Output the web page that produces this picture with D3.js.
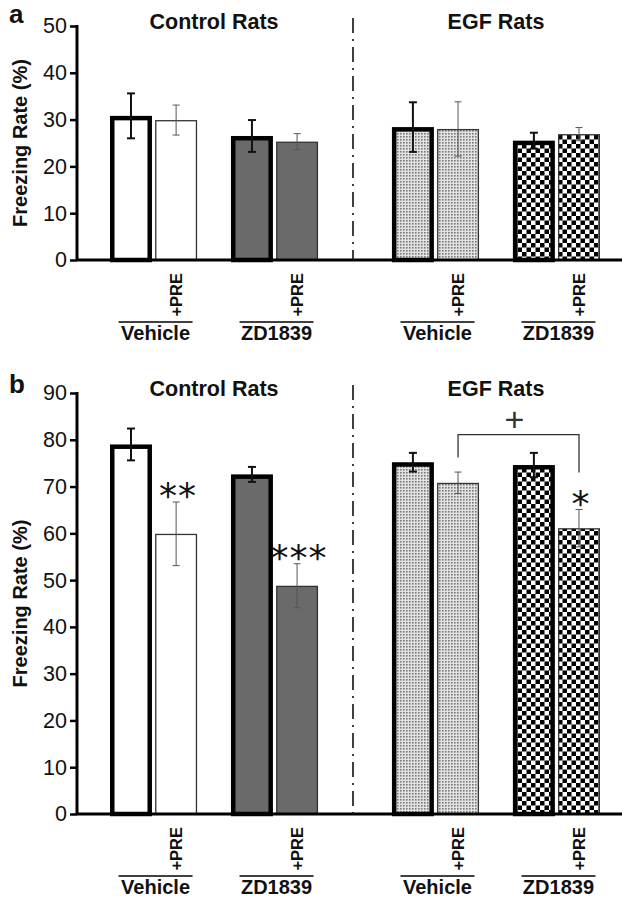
<!DOCTYPE html>
<html>
<head>
<meta charset="utf-8">
<script src="https://cdn.jsdelivr.net/npm/d3@7"></script>
<style>
html,body{margin:0;padding:0;background:#fff;}
svg{display:block;}
text{font-family:"Liberation Sans",Arial,sans-serif;fill:#111;}
</style>
</head>
<body>
<svg id="chart" width="622" height="897"></svg>
<script>
// ---------- data ----------
const groups = ["Control Rats", "EGF Rats"];
const treatments = ["Vehicle", "ZD1839"];
const conditions = ["", "+PRE"];
const panelLetters = ["a", "b"];
const yTicksA = [0, 10, 20, 30, 40, 50];
const yTicksB = [0, 10, 20, 30, 40, 50, 60, 70, 80, 90];
// order: Control Vehicle, Control Vehicle+PRE, Control ZD, Control ZD+PRE, EGF Vehicle, EGF Vehicle+PRE, EGF ZD, EGF ZD+PRE
const meansA = [30.8, 29.9, 26.5, 25.3, 28.4, 28.0, 25.5, 26.9];
const errsA  = [4.8, 3.2, 3.4, 1.7, 5.3, 5.8, 1.7, 1.4];
const meansB = [79.0, 59.9, 72.6, 48.8, 75.2, 70.8, 74.6, 61.1];
const errsB  = [3.4, 6.8, 1.6, 4.7, 2.0, 2.3, 2.6, 4.0];
const sigB   = ["", "**", "", "***", "", "", "", "*"];
// bracket between EGF Vehicle+PRE and EGF ZD1839+PRE (values in %)
const bracketB = [{from: 5, to: 7, top: 81.1, leftEnd: 76.2, rightEnd: 73.0, label: "+"}];

// ---------- layout ----------
const svg = d3.select("#chart");
const axisX = 77;

const x0 = d3.scaleBand().domain(groups).range([110, 600]).paddingInner(0.262).paddingOuter(0);
const x1 = d3.scaleBand().domain(treatments).range([0, x0.bandwidth()]).paddingInner(0.28).paddingOuter(0);
const x2 = d3.scaleBand().domain(conditions).range([0, x1.bandwidth()]).paddingInner(0.07).paddingOuter(0);

function buildRows(means, errs, sig) {
  const rows = [];
  let i = 0;
  groups.forEach(g => treatments.forEach(t => conditions.forEach(c => {
    rows.push({g, t, c, v: means[i], e: errs[i], sig: sig ? sig[i] : ""});
    i++;
  })));
  return rows;
}

// patterns
const defs = svg.append("defs");
const stip = defs.append("pattern").attr("id", "stip").attr("patternUnits", "userSpaceOnUse")
  .attr("width", 3).attr("height", 3);
stip.append("rect").attr("width", 3).attr("height", 3).attr("fill", "#e2e2e2");
stip.append("rect").attr("x", 1).attr("y", 1).attr("width", 1.6).attr("height", 1.6).attr("fill", "#7a7a7a");
const chk = defs.append("pattern").attr("id", "chk").attr("patternUnits", "userSpaceOnUse")
  .attr("width", 9).attr("height", 9);
chk.append("rect").attr("width", 9).attr("height", 9).attr("fill", "#fff");
chk.append("rect").attr("width", 4.5).attr("height", 4.5).attr("fill", "#000");
chk.append("rect").attr("x", 4.5).attr("y", 4.5).attr("width", 4.5).attr("height", 4.5).attr("fill", "#000");

function fillFor(d) {
  if (d.g === groups[0]) return d.t === treatments[0] ? "#ffffff" : "#6a6a6a";
  return d.t === treatments[0] ? "url(#stip)" : "url(#chk)";
}

const panels = [
  {letter: panelLetters[0], rows: buildRows(meansA, errsA, null), ticks: yTicksA, yr: [260, 26], brackets: []},
  {letter: panelLetters[1], rows: buildRows(meansB, errsB, sigB), ticks: yTicksB, yr: [814, 393], brackets: bracketB}
];

panels.forEach(p => {
  const g = svg.append("g");
  const maxV = p.ticks[p.ticks.length - 1];
  const y = d3.scaleLinear().domain([0, maxV]).range(p.yr);
  const base = y(0);
  const cx = d => x0(d.g) + x1(d.t) + x2(d.c) + x2.bandwidth() / 2;

  // bars
  p.rows.forEach(d => {
    const thick = d.c === conditions[0];
    const sw = thick ? 4.5 : 1.3;
    const left = x0(d.g) + x1(d.t) + x2(d.c);
    g.append("rect")
      .attr("x", left + sw / 2)
      .attr("y", y(d.v) + sw / 2)
      .attr("width", x2.bandwidth() - sw)
      .attr("height", base - y(d.v) - sw / 2)
      .attr("fill", fillFor(d))
      .attr("stroke", thick ? "#000" : "#333")
      .attr("stroke-width", sw);
  });

  // error bars
  p.rows.forEach(d => {
    const thick = d.c === conditions[0];
    const c = cx(d), hw = thick ? 4 : 3.5;
    const col = thick ? "#111" : "#555", sw = thick ? 2 : 1;
    const yt = y(d.v + d.e), yb = y(d.v - d.e);
    g.append("line").attr("x1", c).attr("x2", c).attr("y1", yt).attr("y2", yb).attr("stroke", col).attr("stroke-width", sw);
    g.append("line").attr("x1", c - hw).attr("x2", c + hw).attr("y1", yt).attr("y2", yt).attr("stroke", col).attr("stroke-width", sw);
    g.append("line").attr("x1", c - hw).attr("x2", c + hw).attr("y1", yb).attr("y2", yb).attr("stroke", col).attr("stroke-width", sw);
  });

  // significance marks
  p.rows.forEach(d => {
    if (!d.sig) return;
    g.append("text")
      .attr("x", cx(d) + 2)
      .attr("y", y(d.v + d.e + 3.7))
      .attr("dy", "0.66em")
      .attr("text-anchor", "middle")
      .style("font-family", "'DejaVu Sans',sans-serif")
      .style("font-size", "36px")
      .style("letter-spacing", "1px")
      .text(d.sig);
  });

  // brackets
  p.brackets.forEach(b => {
    const a = p.rows[b.from], c = p.rows[b.to];
    const xa = cx(a), xc = cx(c);
    const path = d3.path();
    path.moveTo(xa, y(b.leftEnd));
    path.lineTo(xa, y(b.top));
    path.lineTo(xc, y(b.top));
    path.lineTo(xc, y(b.rightEnd));
    g.append("path").attr("d", path.toString()).attr("fill", "none").attr("stroke", "#333").attr("stroke-width", 1.3);
    g.append("text").attr("x", (xa + xc) / 2 - 4).attr("y", y(b.top) - 4)
      .attr("text-anchor", "middle").style("font-family", "'Liberation Sans',Arial,sans-serif")
      .style("font-size", "34px").style("fill", "#333").text(b.label);
  });

  // x axis
  g.append("line").attr("x1", axisX).attr("x2", 622).attr("y1", base).attr("y2", base)
    .attr("stroke", "#000").attr("stroke-width", 3);

  // y axis
  const yAxis = d3.axisLeft(y).tickValues(p.ticks).tickSize(7).tickPadding(3).tickFormat(d3.format("d"));
  const ya = g.append("g").attr("transform", `translate(${axisX},0)`).call(yAxis);
  ya.select(".domain").attr("d", `M0,${y(maxV) - 1}V${base}`).attr("stroke", "#000").attr("stroke-width", 3);
  ya.selectAll(".tick line").attr("stroke", "#000").attr("stroke-width", 2.5);
  ya.selectAll(".tick text").style("font-size", "21.5px").style("fill", "#111")
    .style("font-family", "'Liberation Sans',Arial,sans-serif");

  // y label
  g.append("text")
    .attr("transform", `translate(27,${(y(0) + y(maxV)) / 2}) rotate(-90)`)
    .attr("text-anchor", "middle").style("font-size", "20px").style("font-weight", "bold")
    .text("Freezing Rate (%)");

  // panel letter
  g.append("text").attr("x", 9).attr("y", y(maxV) - (p.letter === "a" ? 3 : 0))
    .style("font-size", "26px").style("font-weight", "bold").text(p.letter);

  // group titles
  groups.forEach(gr => {
    g.append("text").attr("x", x0(gr) + x0.bandwidth() / 2).attr("y", y(maxV) + 3)
      .attr("text-anchor", "middle").style("font-size", "21.5px").style("font-weight", "bold").text(gr);
  });

  // dash-dot divider
  const divX = (x0(groups[0]) + x0.bandwidth() + x0(groups[1])) / 2 - 2;
  g.append("line").attr("x1", divX).attr("x2", divX).attr("y1", y(maxV) - 8).attr("y2", base)
    .attr("stroke", "#111").attr("stroke-width", 1.6).attr("stroke-dasharray", "15,6,2,6");

  // +PRE labels
  p.rows.forEach(d => {
    if (d.c !== conditions[1]) return;
    g.append("text")
      .attr("transform", `translate(${cx(d) + 6},${base + 13}) rotate(-90)`)
      .attr("text-anchor", "end").style("font-size", "16.5px").style("font-weight", "bold").text(d.c);
  });

  // treatment labels with overline
  groups.forEach(gr => treatments.forEach(t => {
    const c = x0(gr) + x1(t) + x1.bandwidth() / 2 + 2;
    g.append("line").attr("x1", c - 37).attr("x2", c + 37).attr("y1", base + 62).attr("y2", base + 62)
      .attr("stroke", "#000").attr("stroke-width", 1.6);
    g.append("text").attr("x", c).attr("y", base + 80).attr("text-anchor", "middle")
      .style("font-size", "20px").style("font-weight", "bold").text(t);
  }));
});
</script>
</body>
</html>
